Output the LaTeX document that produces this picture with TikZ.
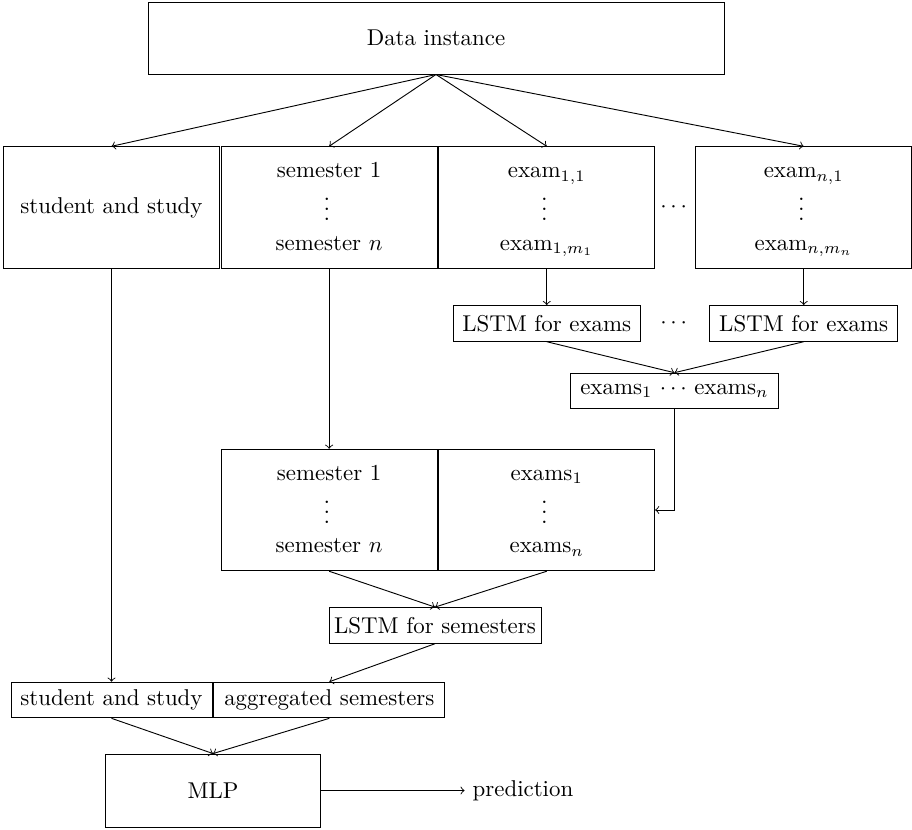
\documentclass[tikz,border=0pt]{standalone}
\usetikzlibrary{positioning}
\begin{document}
\begin{tikzpicture}[
  x=0.437pt, y=-0.437pt,
  every path/.style={line width=0.4pt},
  bigbox/.style={draw, minimum width=94.3pt, minimum height=53.1pt, inner sep=0pt},
  smallbox/.style={draw, minimum height=15.6pt, inner sep=0pt},
  txt/.style={anchor=base, inner sep=0pt},
  % vertical dots: a row of centred dots turned upright, boxed around the math axis
  vdotsnode/.style={rotate=90, inner sep=0pt, text height=3pt, text depth=-2pt},
  conn/.style={->}
]
\useasboundingbox (0,0) rectangle (912,829);

% input
\node[draw, minimum width=251.7pt, minimum height=31.5pt] (data) at (436,38) {Data instance};

% first split of the instance
\node[bigbox] (stud) at (111.5,207.5) {student and study};
\node[bigbox, anchor=west, xshift=0.4pt] (sem) at (stud.east) {};
\node[bigbox, anchor=west, xshift=0.4pt] (exa) at (sem.east) {};
\node[bigbox] (exn) at (803.7,207.5) {};
\node (dotsA) at (673.6,207.5) {$\cdots$};

\node[txt] (sem-1) at ([yshift=12.9pt]sem.center) {semester 1};
\node[vdotsnode] (sem-d) at ([yshift=-0.9pt]sem.center) {$\cdots$};
\node[txt] (sem-n) at ([yshift=-18.6pt]sem.center) {semester $n$};

\node[txt] (exa-1) at ([yshift=12.9pt]exa.center) {exam$_{1,1}$};
\node[vdotsnode] (exa-d) at ([yshift=-0.9pt]exa.center) {$\cdots$};
\node[txt] (exa-n) at ([yshift=-18.6pt]exa.center) {exam$_{1,m_1}$};

\node[txt] (exn-1) at ([yshift=12.9pt]exn.center) {exam$_{n,1}$};
\node[vdotsnode] (exn-d) at ([yshift=-0.9pt]exn.center) {$\cdots$};
\node[txt] (exn-n) at ([yshift=-18.6pt]exn.center) {exam$_{n,m_n}$};

% exam encoders
\node[smallbox, minimum width=81.7pt] (lstma) at (exa.center |- 0,323.4) {LSTM for exams};
\node[smallbox, minimum width=82.3pt] (lstmn) at (exn.center |- 0,323.4) {LSTM for exams};
\node (dotsB) at (673.6,323.4) {$\cdots$};
\node[smallbox, minimum width=90.6pt] (exs) at (674.4,391) {exams$_1$ $\cdots$ exams$_n$};

% second level
\node[bigbox] (lsem) at (sem.center |- 0,510) {};
\node[bigbox, anchor=west, xshift=0.4pt] (lexs) at (lsem.east) {};

\node[txt] (lsem-1) at ([yshift=12.9pt]lsem.center) {semester 1};
\node[vdotsnode] (lsem-d) at ([yshift=-0.9pt]lsem.center) {$\cdots$};
\node[txt] (lsem-n) at ([yshift=-18.6pt]lsem.center) {semester $n$};

\node[txt] (lexs-1) at ([yshift=12.9pt]lexs.center) {exams$_1$};
\node[vdotsnode] (lexs-d) at ([yshift=-0.9pt]lexs.center) {$\cdots$};
\node[txt] (lexs-n) at ([yshift=-18.6pt]lexs.center) {exams$_n$};

\node[smallbox, minimum width=92.6pt] (lstms) at (435,625.4) {LSTM for semesters};

% aggregation and output
\node[smallbox, minimum width=87.8pt] (rstud) at (111.5,700) {student and study};
\node[smallbox, minimum width=101pt, anchor=west, xshift=0.4pt] (ragg) at (rstud.east) {aggregated semesters};
\node[draw, minimum width=94.3pt, minimum height=31.9pt] (mlp) at (213,790.5) {MLP};
\node[right=62.6pt of mlp.east] (pred) {prediction};

% connectors
\draw[conn] (data.south) -- (stud.north);
\draw[conn] (data.south) -- (sem.north);
\draw[conn] (data.south) -- (exa.north);
\draw[conn] (data.south) -- (exn.north);
\draw[conn] (exa.south) -- (lstma.north);
\draw[conn] (exn.south) -- (lstmn.north);
\draw[conn] (lstma.south) -- (exs.north);
\draw[conn] (lstmn.south) -- (exs.north);
\draw[conn] (exs.south) |- (lexs.east);
\draw[conn] (sem.south) -- (lsem.north);
\draw[conn] (lsem.south) -- (lstms.north);
\draw[conn] (lexs.south) -- (lstms.north);
\draw[conn] (stud.south) -- (rstud.north);
\draw[conn] (lstms.south) -- (ragg.north);
\draw[conn] (rstud.south) -- (mlp.north);
\draw[conn] (ragg.south) -- (mlp.north);
\draw[conn] (mlp.east) -- (pred.west);
\end{tikzpicture}
\end{document}
